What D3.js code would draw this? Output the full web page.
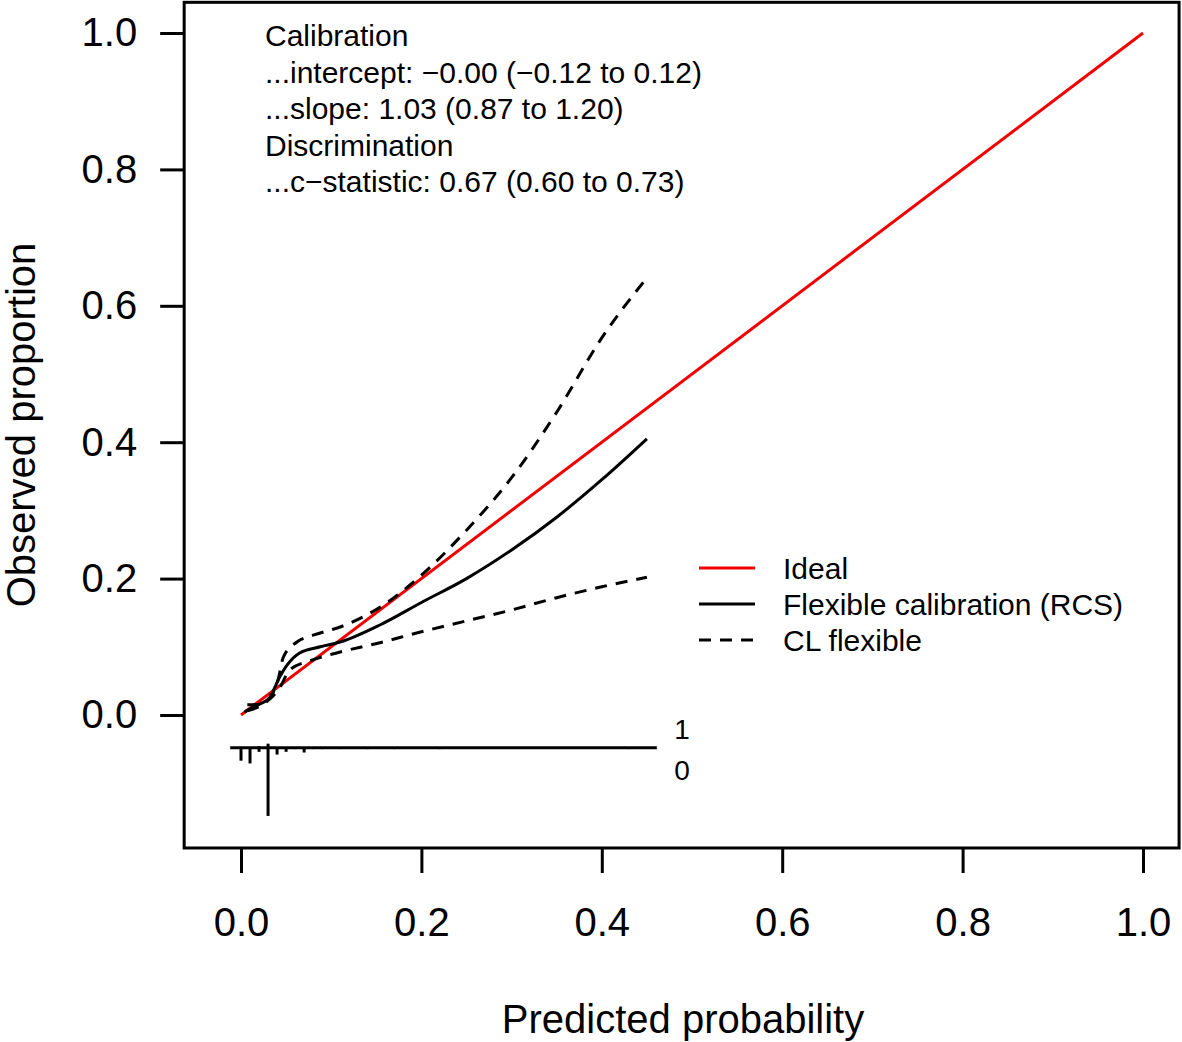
<!DOCTYPE html>
<html>
<head>
<meta charset="utf-8">
<script src="https://cdn.jsdelivr.net/npm/d3@7"></script>
<style>
  body { margin: 0; background: #fff; }
  svg { font-family: "Liberation Sans", Arial, sans-serif; }
</style>
</head>
<body>
<div id="chart"></div>
<script>
// calibration curve (RCS) and its confidence limits
const curveX = [0.004, 0.007, 0.021, 0.032, 0.043, 0.051, 0.065, 0.088, 0.11, 0.154, 0.2, 0.25, 0.3, 0.35, 0.4, 0.45];
const curveY = [0.004, 0.007, 0.016, 0.026, 0.056, 0.073, 0.091, 0.1, 0.107, 0.132, 0.165, 0.2, 0.242, 0.29, 0.345, 0.405];

const upperX = [0.007, 0.021, 0.034, 0.041, 0.047, 0.062, 0.08, 0.11, 0.154, 0.2, 0.25, 0.3, 0.35, 0.4, 0.45];
const upperY = [0.015, 0.016, 0.029, 0.051, 0.085, 0.107, 0.117, 0.129, 0.158, 0.205, 0.271, 0.348, 0.444, 0.553, 0.641];

const lowerX = [0.007, 0.027, 0.043, 0.054, 0.08, 0.106, 0.154, 0.2, 0.25, 0.3, 0.35, 0.4, 0.45];
const lowerY = [0.006, 0.018, 0.04, 0.066, 0.081, 0.091, 0.106, 0.122, 0.138, 0.154, 0.172, 0.188, 0.202];

// spike histogram of predicted risks (bins of 0.01), relative counts
const binStarts = d3.range(0, 0.455, 0.01);
const counts0 = [19, 23, 6, 100, 10, 6, 2, 7, 2, 2, 1, 2, 1, 1, 2, 1, 1, 2, 1, 1, 1, 1, 2, 1, 1, 1, 1, 1, 1, 1, 1, 1, 1, 1, 1, 1, 1, 1, 1, 1, 1, 1, 1, 2, 1, 1];
const counts1 = [1, 1, 2, 6, 1, 1, 1, 1, 1, 1, 1, 1, 1, 1, 1, 1, 1, 1, 1, 1, 1, 1, 1, 1, 1, 1, 1, 1, 1, 1, 1, 1, 1, 1, 1, 1, 1, 1, 1, 1, 1, 1, 1, 1, 1, 1];

const xTicks = [0, 0.2, 0.4, 0.6, 0.8, 1.0];
const yTicks = [0, 0.2, 0.4, 0.6, 0.8, 1.0];

const statLines = [
  "Calibration",
  "...intercept: \u22120.00 (\u22120.12 to 0.12)",
  "...slope: 1.03 (0.87 to 1.20)",
  "Discrimination",
  "...c\u2212statistic: 0.67 (0.60 to 0.73)"
];
const legendLabels = ["Ideal", "Flexible calibration (RCS)", "CL flexible"];

const W = 1182, H = 1042;
const svg = d3.select("#chart").append("svg").attr("width", W).attr("height", H);

const x = d3.scaleLinear().domain([0, 1]).range([241, 1143]);
const y = d3.scaleLinear().domain([0, 1]).range([715, 33]);
const xlim = [-0.063, 1.04], ylim = [-0.195, 1.045];
const red = "#f00000";

// axes
const xAxis = svg.append("g")
  .attr("transform", `translate(0,${y(ylim[0])})`)
  .call(d3.axisBottom(x).tickValues(xTicks).tickSize(25).tickPadding(35).tickFormat(d3.format(".1f")));
const yAxis = svg.append("g")
  .attr("transform", `translate(${x(xlim[0])},0)`)
  .call(d3.axisLeft(y).tickValues(yTicks).tickSize(24).tickPadding(23).tickFormat(d3.format(".1f")));
[xAxis, yAxis].forEach(g => {
  g.select(".domain").remove();
  g.selectAll("line").attr("stroke", "#000").attr("stroke-width", 3);
  g.selectAll("text").attr("fill", "#000").style("font-size", "40px")
    .style("font-family", "'Liberation Sans', Arial, sans-serif");
});

// plot box
svg.append("rect")
  .attr("x", x(xlim[0])).attr("y", y(ylim[1]))
  .attr("width", x(xlim[1]) - x(xlim[0]))
  .attr("height", y(ylim[0]) - y(ylim[1]))
  .attr("fill", "none").attr("stroke", "#000").attr("stroke-width", 3);

// axis titles
svg.append("text").attr("x", 683).attr("y", 1033).attr("text-anchor", "middle")
  .style("font-size", "40px").text("Predicted probability");
svg.append("text").attr("transform", `translate(35,425) rotate(-90)`)
  .attr("text-anchor", "middle").style("font-size", "40px").text("Observed proportion");

// ideal line
svg.append("line")
  .attr("x1", x(0)).attr("y1", y(0)).attr("x2", x(1)).attr("y2", y(1))
  .attr("stroke", red).attr("stroke-width", 3);

const line = d3.line().x(d => x(d[0])).y(d => y(d[1])).curve(d3.curveMonotoneX);

svg.append("path").datum(d3.zip(upperX, upperY)).attr("d", line)
  .attr("fill", "none").attr("stroke", "#000").attr("stroke-width", 3)
  .attr("stroke-dasharray", "12,9");
svg.append("path").datum(d3.zip(lowerX, lowerY)).attr("d", line)
  .attr("fill", "none").attr("stroke", "#000").attr("stroke-width", 3)
  .attr("stroke-dasharray", "12,9");
svg.append("path").datum(d3.zip(curveX, curveY)).attr("d", line)
  .attr("fill", "none").attr("stroke", "#000").attr("stroke-width", 3);

// spike histogram
const base = -0.048;
const spike = 0.1 / d3.max(counts0);
svg.append("line")
  .attr("x1", x(-0.012)).attr("x2", x(0.461))
  .attr("y1", y(base)).attr("y2", y(base))
  .attr("stroke", "#000").attr("stroke-width", 3);
svg.selectAll("line.d0").data(binStarts).join("line").attr("class", "d0")
  .attr("x1", d => x(d)).attr("x2", d => x(d))
  .attr("y1", y(base)).attr("y2", (d, i) => y(base - counts0[i] * spike))
  .attr("stroke", "#000").attr("stroke-width", 3);
svg.selectAll("line.d1").data(binStarts).join("line").attr("class", "d1")
  .attr("x1", d => x(d)).attr("x2", d => x(d))
  .attr("y1", y(base)).attr("y2", (d, i) => y(base + counts1[i] * spike))
  .attr("stroke", "#000").attr("stroke-width", 3);
svg.append("text").attr("x", 682).attr("y", 739).attr("text-anchor", "middle")
  .style("font-size", "28px").text("1");
svg.append("text").attr("x", 682).attr("y", 780).attr("text-anchor", "middle")
  .style("font-size", "28px").text("0");

// statistics text
svg.selectAll("text.stat").data(statLines).join("text").attr("class", "stat")
  .attr("x", 265).attr("y", (d, i) => 46 + i * 36.5)
  .style("font-size", "30px").text(d => d);

// legend
const legendStyles = [
  { color: red, dash: null },
  { color: "#000", dash: null },
  { color: "#000", dash: "12,9" }
];
const lg = svg.append("g");
legendLabels.forEach((lab, i) => {
  const ly = 568 + i * 36;
  lg.append("line").attr("x1", 699).attr("x2", 755).attr("y1", ly).attr("y2", ly)
    .attr("stroke", legendStyles[i].color).attr("stroke-width", 3)
    .attr("stroke-dasharray", legendStyles[i].dash);
  lg.append("text").attr("x", 783).attr("y", ly + 11).style("font-size", "30px").text(lab);
});
</script>
</body>
</html>
